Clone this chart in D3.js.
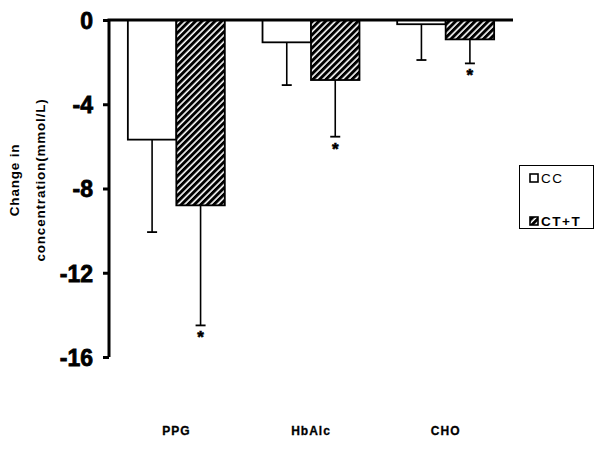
<!DOCTYPE html>
<html><head><meta charset="utf-8">
<script src="https://cdn.jsdelivr.net/npm/d3@7"></script>
<style>body{margin:0;background:#fff}svg{display:block}</style>
</head><body>
<svg id="c" width="600" height="449"></svg>
<script>
const categories = ["PPG", "HbAlc", "CHO"];
const seriesNames = ["CC", "CT+T"];
const ccMeans = [-5.68, -1.06, -0.2];
const ccSD = [4.39, 2.03, 1.7];
const ctMeans = [-8.8, -2.85, -0.92];
const ctSD = [5.7, 2.69, 1.14];
const ctSignificant = [true, true, true];
const yTicks = [0, -4, -8, -12, -16];

const svg = d3.select("#c");
const defs = svg.append("defs");
const pat = defs.append("pattern").attr("id","hatch").attr("patternUnits","userSpaceOnUse")
  .attr("width",4.6).attr("height",4.6).attr("patternTransform","rotate(45)");
pat.append("rect").attr("width",4.6).attr("height",4.6).attr("fill","#fff");
pat.append("rect").attr("x",0).attr("width",3.0).attr("height",4.6).attr("fill","#000");

const y = d3.scaleLinear().domain([0, -16]).range([20, 357]);
const x0 = d3.scaleBand().domain(categories).range([109, 513]).paddingInner(0.28).paddingOuter(0.14);
const x1 = d3.scaleBand().domain(seriesNames).range([0, x0.bandwidth()]);

const series = [
  {name:"CC", means:ccMeans, sd:ccSD, fill:"#fff"},
  {name:"CT+T", means:ctMeans, sd:ctSD, fill:"url(#hatch)"}
];

series.forEach(s => {
  const g = svg.append("g");
  g.selectAll("rect").data(categories).join("rect")
    .attr("x", (c) => x0(c) + x1(s.name))
    .attr("y", y(0))
    .attr("width", x1.bandwidth())
    .attr("height", (c,i) => y(s.means[i]) - y(0))
    .attr("fill", s.fill).attr("stroke","#000").attr("stroke-width",1.8);
  g.selectAll("line.v").data(categories).join("line").attr("class","v")
    .attr("x1", c => x0(c)+x1(s.name)+x1.bandwidth()/2)
    .attr("x2", c => x0(c)+x1(s.name)+x1.bandwidth()/2)
    .attr("y1", (c,i) => y(s.means[i]))
    .attr("y2", (c,i) => y(s.means[i]-s.sd[i]))
    .attr("stroke","#000").attr("stroke-width",1.6);
  g.selectAll("line.h").data(categories).join("line").attr("class","h")
    .attr("x1", c => x0(c)+x1(s.name)+x1.bandwidth()/2-5)
    .attr("x2", c => x0(c)+x1(s.name)+x1.bandwidth()/2+5)
    .attr("y1", (c,i) => y(s.means[i]-s.sd[i]))
    .attr("y2", (c,i) => y(s.means[i]-s.sd[i]))
    .attr("stroke","#000").attr("stroke-width",1.8);
});
svg.append("g").selectAll("text").data(categories).join("text")
  .filter((c,i)=>ctSignificant[i])
  .attr("x", c => x0(c)+x1("CT+T")+x1.bandwidth()/2)
  .attr("y", (c) => { const i = categories.indexOf(c); return y(ctMeans[i]-ctSD[i]) + 18; })
  .attr("text-anchor","middle").attr("font-family","Liberation Sans, Arial, sans-serif")
  .attr("font-weight","bold").attr("font-size",17).attr("stroke","#000").attr("stroke-width",0.6).text("*");

const yAxis = d3.axisLeft(y).tickValues(yTicks).tickSize(6).tickPadding(10).tickFormat(d3.format("d"));
const ga = svg.append("g").attr("transform","translate(109,0)").call(yAxis);
ga.select(".domain").attr("d","M0,20V357").attr("stroke","#000").attr("stroke-width",3);
ga.selectAll(".tick line").attr("stroke","#000").attr("stroke-width",3);
ga.selectAll(".tick text").attr("font-family","'Liberation Sans Narrow', 'Arial Narrow', 'Liberation Sans', sans-serif")
  .attr("font-weight","bold").attr("font-size",23).attr("fill","#000").attr("stroke","#000").attr("stroke-width",0.8)
  .attr("dy","0.36em")
  .text(d => d === 0 ? "0" : "-" + Math.abs(d));
svg.append("line").attr("x1",107.5).attr("x2",513).attr("y1",y(0)).attr("y2",y(0))
  .attr("stroke","#000").attr("stroke-width",3);

svg.append("g").selectAll("text").data(categories).join("text")
  .attr("x", c => x0(c)+x0.bandwidth()/2).attr("y",435)
  .attr("text-anchor","middle").attr("font-family","Liberation Sans, Arial, sans-serif")
  .attr("font-weight","bold").attr("font-size",12).attr("letter-spacing",1)
  .attr("stroke","#000").attr("stroke-width",0.3).text(c=>c);

const yt = svg.append("text").attr("transform","translate(0,180) rotate(-90)")
  .attr("text-anchor","middle").attr("font-family","Liberation Sans, Arial, sans-serif")
  .attr("font-weight","bold").attr("font-size",13.5).attr("letter-spacing",0.8);
yt.append("tspan").attr("x",0).attr("y",19).text("Change in");
yt.append("tspan").attr("x",0).attr("y",45).text("concentration(mmol/L)");

const lg = svg.append("g");
lg.append("rect").attr("x",519.5).attr("y",165.5).attr("width",74).attr("height",63)
  .attr("fill","#fff").attr("stroke","#000").attr("stroke-width",1);
series.forEach((s,i) => {
  const yy = 178 + i*43;
  lg.append("rect").attr("x",530).attr("y",yy-4).attr("width",8).attr("height",8)
    .attr("fill", s.fill).attr("stroke","#000").attr("stroke-width",1.6);
  lg.append("text").attr("x",541).attr("y",yy+5).attr("font-family","Liberation Sans, Arial, sans-serif")
    .attr("font-weight", i===0 ? "normal" : "bold").attr("font-size",13.5).attr("letter-spacing",1.5).text(s.name);
});
</script>
</body></html>
